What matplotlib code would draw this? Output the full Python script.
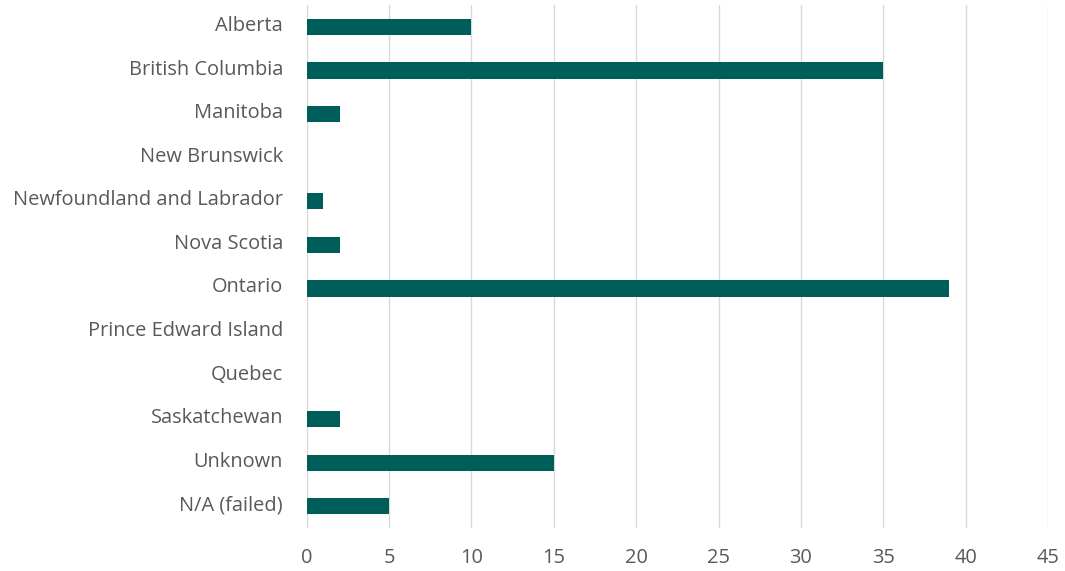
import matplotlib
matplotlib.use("Agg")
import matplotlib.pyplot as plt
from matplotlib.transforms import ScaledTranslation

provinces = [
    "Alberta",
    "British Columbia",
    "Manitoba",
    "New Brunswick",
    "Newfoundland and Labrador",
    "Nova Scotia",
    "Ontario",
    "Prince Edward Island",
    "Quebec",
    "Saskatchewan",
    "Unknown",
    "N/A (failed)",
]
counts = [10, 35, 2, 0, 1, 2, 39, 0, 0, 2, 15, 5]

bar_color = "#005e5a"
text_color = "#595959"

plt.rcParams["font.family"] = ["Open Sans", "DejaVu Sans"]

fig = plt.figure(figsize=(10.65, 5.71), dpi=100)
ax = fig.add_axes([0.288, 0.075, 0.696, 0.916])

positions = range(len(provinces))
ax.barh(positions, counts, height=0.37, color=bar_color,
        linewidth=0, zorder=3)

ax.set_xlim(0, 45)
ax.set_ylim(len(provinces) - 0.5, -0.5)
ax.set_xticks(range(0, 46, 5))
ax.set_yticks(list(positions))
ax.set_yticklabels(provinces)

ax.grid(axis="x", color="#d9d9d9", linewidth=1.0, zorder=0)
for spine in ax.spines.values():
    spine.set_visible(False)
ax.tick_params(axis="both", length=0, labelsize=14.4, colors=text_color)
ax.tick_params(axis="y", pad=17)
ax.tick_params(axis="x", pad=14)

# category labels sit a little above the bar centre in the source
shift = ScaledTranslation(0, 0.035, fig.dpi_scale_trans)
for label in ax.get_yticklabels():
    label.set_transform(label.get_transform() + shift)

fig.savefig("out.png", dpi=100)
